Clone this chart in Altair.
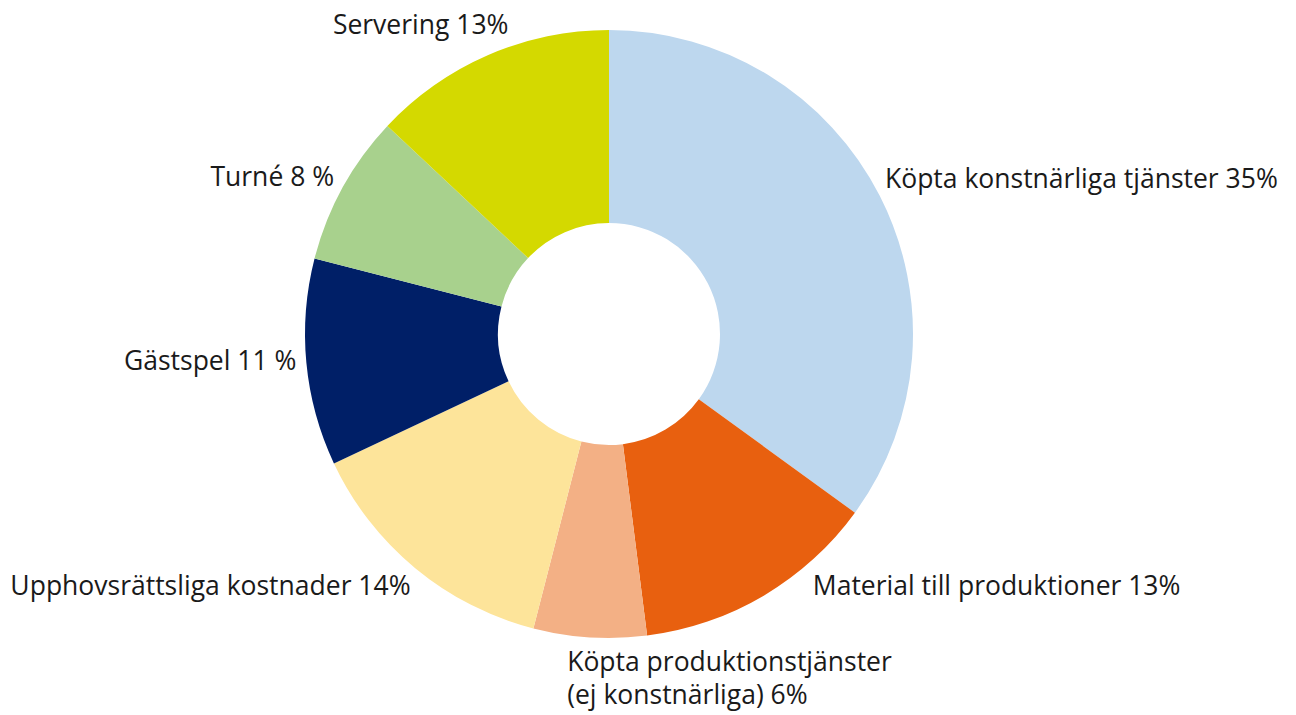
import altair as alt
import pandas as pd

categories = [
    "Köpta konstnärliga tjänster",
    "Material till produktioner",
    "Köpta produktionstjänster (ej konstnärliga)",
    "Upphovsrättsliga kostnader",
    "Gästspel",
    "Turné",
    "Servering",
]
values = [35, 13, 6, 14, 11, 8, 13]
labels = [
    "Köpta konstnärliga tjänster 35%",
    "Material till produktioner 13%",
    "Köpta produktionstjänster\n(ej konstnärliga) 6%",
    "Upphovsrättsliga kostnader 14%",
    "Gästspel 11 %",
    "Turné 8 %",
    "Servering 13%",
]
colors = ["#BDD7EE", "#E8600F", "#F3B085", "#FDE49A", "#001F67", "#A8D18D", "#D4D900"]

df = pd.DataFrame({
    "cat": categories,
    "value": values,
    "label": labels,
    "order": list(range(len(categories))),
})

theta_scale = alt.Scale(domain=[0, 100], range=[0, 6.283185307179586])

base = alt.Chart(df).transform_window(
    end="sum(value)", sort=[alt.SortField("order")], frame=[None, 0]
).transform_calculate(
    start="datum.end - datum.value",
    mid="datum.end - datum.value / 2",
)

arcs = base.mark_arc(radius=304, radius2=111, stroke=None).encode(
    theta=alt.Theta("start:Q", scale=theta_scale),
    theta2="end:Q",
    color=alt.Color("cat:N", scale=alt.Scale(domain=categories, range=colors), legend=None),
)

text_props = dict(font="Open Sans", fontSize=26.5, color="#1a1a1a", lineBreak="\n")

# label placement styles (align, baseline, radius, dx, dy, lineHeight) per slice
label_style = {
    "Köpta konstnärliga tjänster": ("left", "middle", 312, -2, -12, 27),
    "Material till produktioner": ("left", "middle", 312, 45, -16, 27),
    "Köpta produktionstjänster (ej konstnärliga)": ("left", "top", 316, -22, 1, 33),
    "Upphovsrättsliga kostnader": ("right", "middle", 316, 3, 10, 27),
    "Gästspel": ("right", "middle", 316, 2, -2, 27),
    "Turné": ("right", "middle", 316, 2, -4, 27),
    "Servering": ("right", "middle", 316, 25, -18, 27),
}

text_layers = []
for cat in categories:
    align, baseline, r, dx, dy, lh = label_style[cat]
    text_layers.append(
        base.transform_filter(alt.datum.cat == cat).mark_text(
            radius=r, align=align, baseline=baseline, dx=dx, dy=dy, lineHeight=lh, **text_props
        ).encode(theta=alt.Theta("mid:Q", scale=theta_scale), text="label:N")
    )

chart = alt.layer(arcs, *text_layers).properties(
    width=1202,
    height=632,
    autosize=alt.AutoSizeParams(type="none"),
    padding={"left": 0, "top": 10, "right": 78, "bottom": 64},
).configure_view(stroke=None)

chart.save("out.html", embed_options={"renderer": "svg", "actions": False})
